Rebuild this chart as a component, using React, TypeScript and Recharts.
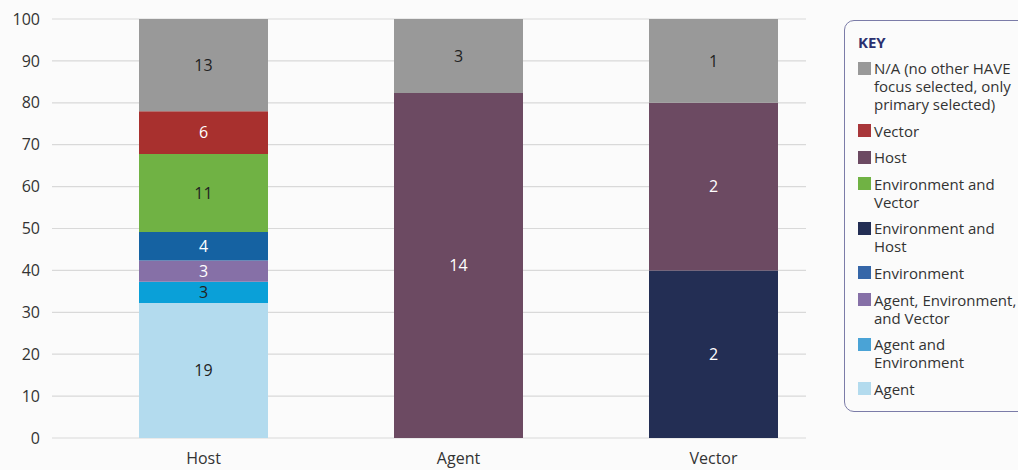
import React from "react";
import { BarChart, Bar, XAxis, YAxis, CartesianGrid, LabelList } from "recharts";

const categories = ["Host", "Agent", "Vector"];
const agent = [19, 0, 0];
const agentEnv = [3, 0, 0];
const agentEnvVector = [3, 0, 0];
const environment = [4, 0, 0];
const envHost = [0, 0, 2];
const envVector = [11, 0, 0];
const host = [0, 14, 2];
const vector = [6, 0, 0];
const na = [13, 3, 1];
const yTicks = [0, 0.1, 0.2, 0.3, 0.4, 0.5, 0.6, 0.7, 0.8, 0.9, 1];

const series = [
  { key: "agent", name: "Agent", values: agent, color: "#b3dbee", label: "#222222", legendColor: "#b3dbee" },
  { key: "agentEnv", name: "Agent and\nEnvironment", values: agentEnv, color: "#0aa0d8", label: "#222222", legendColor: "#4aa3d6" },
  { key: "agentEnvVector", name: "Agent, Environment,\nand Vector", values: agentEnvVector, color: "#8670a7", label: "#ffffff", legendColor: "#8670a7" },
  { key: "environment", name: "Environment", values: environment, color: "#1562a2", label: "#ffffff", legendColor: "#3566a8" },
  { key: "envHost", name: "Environment and\nHost", values: envHost, color: "#232e54", label: "#ffffff", legendColor: "#232e54" },
  { key: "envVector", name: "Environment and\nVector", values: envVector, color: "#70b244", label: "#222222", legendColor: "#70b244" },
  { key: "host", name: "Host", values: host, color: "#6c4a62", label: "#ffffff", legendColor: "#6c4a62" },
  { key: "vector", name: "Vector", values: vector, color: "#a8302e", label: "#ffffff", legendColor: "#a8363a" },
  { key: "na", name: "N/A (no other HAVE\nfocus selected, only\nprimary selected)", values: na, color: "#999999", label: "#222222", legendColor: "#999999" },
];

const data = categories.map((c, i) => {
  const row: any = { category: c };
  series.forEach((s) => {
    row[s.key] = s.values[i];
  });
  return row;
});

const FONT = "'Open Sans', sans-serif";

const GridLine = (props: any) => {
  const { x1, x2, y1, y2 } = props;
  return <line x1={x1 - 24} x2={x2 - 35} y1={y1} y2={y2} stroke="#d9d9d9" strokeWidth={1.2} />;
};

const KeyLegend = () => {
  const items = [...series].reverse();
  return (
    <div
      style={{
        position: "absolute",
        left: 844,
        top: 20,
        width: 190,
        height: 392,
        boxSizing: "border-box",
        border: "1.5px solid #7b7ca8",
        borderRadius: 10,
        padding: "12px 0 0 13px",
        fontFamily: FONT,
        background: "#fbfbfb",
      }}
    >
      <div style={{ fontWeight: 700, fontSize: 15, lineHeight: "18px", color: "#2b3170", marginBottom: 8 }}>KEY</div>
      {items.map((s) => (
        <div key={s.key} style={{ display: "flex", alignItems: "flex-start", marginBottom: 8.6 }}>
          <div style={{ width: 13, height: 13, background: s.legendColor, marginTop: 2.5, marginRight: 3, flexShrink: 0 }} />
          <div style={{ fontSize: 15, lineHeight: "18px", color: "#333333", whiteSpace: "pre-line" }}>{s.name}</div>
        </div>
      ))}
    </div>
  );
};

export default function App() {
  return (
    <div style={{ position: "fixed", left: 0, top: 0, width: 1018, height: 470, background: "#fbfbfb", overflow: "hidden" }}>
      <BarChart
        width={1018}
        height={470}
        data={data}
        stackOffset="expand"
        margin={{ top: 19, right: 177, bottom: 0, left: 0 }}
        barCategoryGap={0}
      >
        <CartesianGrid vertical={false} horizontal={GridLine as any} />
        <XAxis
          dataKey="category"
          axisLine={false}
          tickLine={false}
          tickSize={0}
          tickMargin={15}
          height={32}
          tick={{ fill: "#333333", fontSize: 16, fontFamily: FONT }}
          interval={0}
        />
        <YAxis
          domain={[0, 1]}
          ticks={yTicks}
          tickFormatter={(v: number) => String(Math.round(v * 100))}
          axisLine={false}
          tickLine={false}
          tickSize={0}
          tickMargin={36}
          width={76}
          tick={{ fill: "#333333", fontSize: 16, fontFamily: FONT }}
          interval={0}
        />
        {series.map((s) => (
          <Bar key={s.key} dataKey={s.key} name={s.name} stackId="a" fill={s.color} barSize={129} isAnimationActive={false}>
            <LabelList
              dataKey={s.key}
              position="center"
              fill={s.label}
              fontSize={16}
              fontFamily={FONT}
              formatter={(v: any) => (v ? String(v) : "")}
            />
          </Bar>
        ))}
      </BarChart>
      <KeyLegend />
    </div>
  );
}
